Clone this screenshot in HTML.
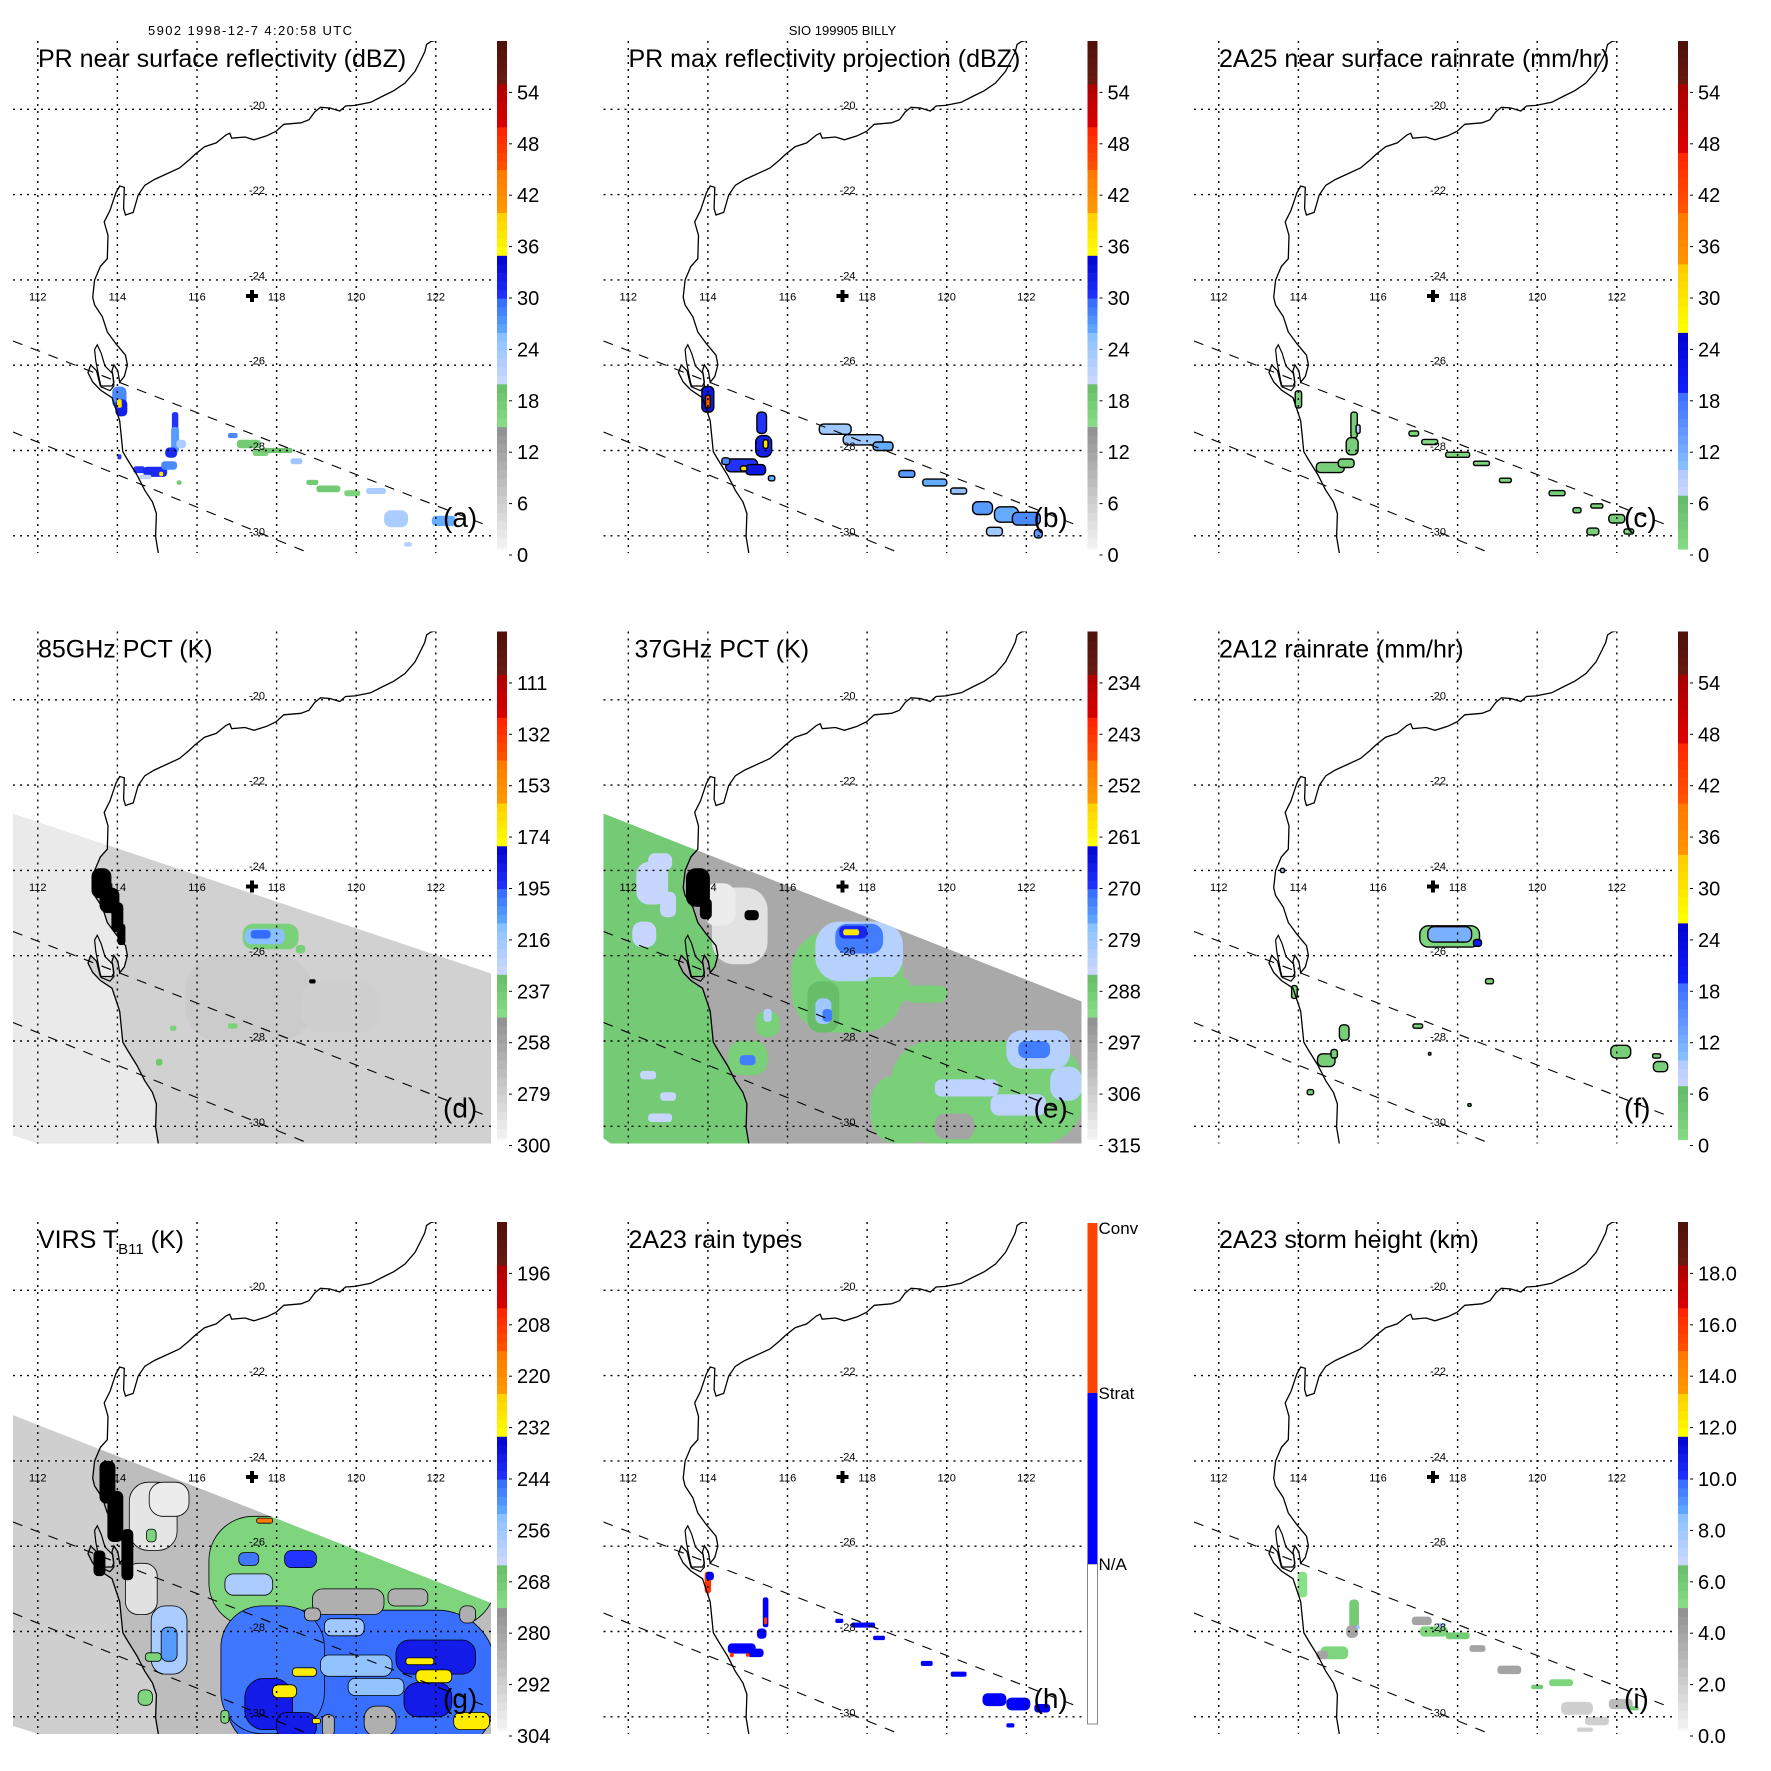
<!DOCTYPE html>
<html><head><meta charset="utf-8"><style>
html,body{margin:0;padding:0;background:#fff;}
svg{display:block;font-family:"Liberation Sans",Arial,sans-serif;}
</style></head><body>
<svg id="chart" width="1771" height="1771" viewBox="0 0 1771 1771" xmlns="http://www.w3.org/2000/svg"></svg>
<script>
// ---------- data ----------
const panelIds = ['a','b','c','d','e','f','g','h','i'];
const panelTitles = ['PR near surface reflectivity (dBZ)','PR max reflectivity projection (dBZ)','2A25 near surface rainrate (mm/hr)','85GHz PCT (K)','37GHz PCT (K)','2A12 rainrate (mm/hr)','VIRS T','2A23 rain types','2A23 storm height (km)'];
const lonTicks = [112,114,116,118,120,122];
const latTicks = [-20,-22,-24,-26,-28,-30];
const labA = ['0','6','12','18','24','30','36','42','48','54'];
const labD = ['300','279','258','237','216','195','174','153','132','111'];
const labE = ['315','306','297','288','279','270','261','252','243','234'];
const labG = ['304','292','280','268','256','244','232','220','208','196'];
const labI = ['0.0','2.0','4.0','6.0','8.0','10.0','12.0','14.0','16.0','18.0'];
const labH = ['N/A','Strat','Conv'];
// blobs: [lon, lat, halfWidthLon, halfHeightLat, value] (null = black contour mass)
const blobsA = [[114.05,-26.75,0.18,0.25,28],[114.1,-27.0,0.15,0.2,32],[114.05,-26.9,0.06,0.1,38],[115.45,-27.35,0.08,0.25,30],[115.45,-27.75,0.1,0.3,27],[115.35,-28.05,0.15,0.12,31],[115.6,-27.85,0.12,0.1,23],[114.55,-28.45,0.15,0.08,30],[114.95,-28.5,0.3,0.12,31],[115.1,-28.55,0.05,0.05,38],[115.3,-28.35,0.2,0.1,28],[114.7,-28.62,0.15,0.05,21],[115.55,-28.75,0.06,0.05,18],[114.05,-28.15,0.05,0.06,30],[116.9,-27.65,0.12,0.06,28],[117.3,-27.85,0.3,0.1,18],[117.6,-28.05,0.2,0.08,17],[118.0,-28.0,0.4,0.06,19],[118.5,-28.25,0.15,0.07,24],[118.9,-28.75,0.15,0.06,18],[119.3,-28.9,0.3,0.08,18],[119.9,-29.0,0.2,0.07,17],[120.5,-28.95,0.25,0.07,23],[121.0,-29.6,0.3,0.2,23],[122.2,-29.65,0.3,0.12,26],[121.3,-30.2,0.1,0.05,22]];
const blobsB = [[114.0,-26.8,0.15,0.3,33],[114.0,-26.85,0.06,0.15,45],[115.35,-27.35,0.12,0.25,30],[115.4,-27.9,0.2,0.25,32],[115.45,-27.85,0.06,0.1,38],[114.85,-28.35,0.4,0.15,30],[115.2,-28.45,0.25,0.12,33],[114.9,-28.42,0.08,0.06,38],[114.45,-28.25,0.1,0.08,28],[115.6,-28.65,0.08,0.06,26],[117.2,-27.5,0.4,0.12,24],[117.9,-27.75,0.5,0.12,24],[118.4,-27.9,0.25,0.1,26],[119.0,-28.55,0.2,0.08,27],[119.7,-28.75,0.3,0.08,26],[120.3,-28.95,0.2,0.07,25],[120.9,-29.35,0.25,0.15,27],[121.5,-29.5,0.3,0.18,26],[122.0,-29.6,0.35,0.15,28],[121.2,-29.9,0.2,0.1,24],[122.3,-29.95,0.1,0.1,27]];
const blobsC = [[114.0,-26.8,0.08,0.2,3],[115.4,-27.4,0.08,0.3,3],[115.35,-27.9,0.15,0.2,3],[115.5,-27.5,0.05,0.1,8],[114.8,-28.4,0.35,0.12,3],[115.2,-28.3,0.2,0.1,3],[116.9,-27.6,0.12,0.06,2],[117.3,-27.8,0.2,0.06,1],[118.0,-28.1,0.3,0.06,2],[118.6,-28.3,0.2,0.05,2],[119.2,-28.7,0.15,0.05,2],[120.5,-29.0,0.2,0.06,3],[121.0,-29.4,0.1,0.06,3],[121.5,-29.3,0.15,0.05,3],[122.0,-29.6,0.2,0.1,3],[121.4,-29.9,0.15,0.08,3],[122.3,-29.9,0.12,0.06,2]];
const blobsD = [[113.6,-24.3,0.25,0.35,null],[113.8,-24.7,0.25,0.3,null],[114.0,-25.1,0.15,0.35,null],[114.1,-25.5,0.1,0.25,null],[117.3,-27.0,1.6,1.0,277],[119.6,-27.2,1.0,0.6,279],[117.85,-25.55,0.7,0.3,240],[117.7,-25.55,0.5,0.18,210],[117.6,-25.5,0.25,0.1,196],[118.6,-25.85,0.12,0.1,240],[118.9,-26.6,0.08,0.05,null],[116.9,-27.65,0.12,0.06,240],[115.4,-27.7,0.08,0.06,240],[115.05,-28.5,0.08,0.08,235]];
const blobsE = [[112.6,-24.3,0.4,0.5,284],[112.4,-25.5,0.3,0.3,284],[112.8,-23.8,0.3,0.2,284],[113.0,-24.8,0.2,0.3,284],[112.5,-28.8,0.2,0.1,284],[113.0,-29.3,0.2,0.1,284],[112.8,-29.8,0.3,0.1,284],[114.8,-25.3,0.7,0.9,310],[114.3,-24.8,0.4,0.5,312],[113.75,-24.4,0.3,0.45,null],[113.95,-24.9,0.15,0.25,null],[115.1,-25.05,0.18,0.12,null],[117.5,-26.6,1.4,1.2,289],[117.8,-25.9,1.1,0.7,282],[117.8,-25.6,0.6,0.35,272],[117.65,-25.45,0.35,0.15,268],[117.6,-25.45,0.2,0.07,259],[116.9,-27.2,0.4,0.6,285],[116.9,-27.3,0.2,0.3,279],[117.0,-27.4,0.12,0.15,272],[115.0,-28.4,0.5,0.4,289],[115.0,-28.45,0.2,0.12,272],[115.5,-27.6,0.3,0.3,289],[115.5,-27.4,0.1,0.15,282],[121.0,-29.2,2.4,1.2,289],[118.9,-29.6,0.8,0.8,289],[122.3,-28.2,0.8,0.45,282],[122.2,-28.2,0.4,0.2,272],[120.5,-29.1,0.8,0.2,283],[121.8,-29.5,0.7,0.25,283],[123.0,-29.0,0.4,0.4,282],[118.5,-26.8,0.6,0.3,289],[119.5,-26.9,0.5,0.2,289],[120.2,-30.0,0.5,0.3,297]];
const blobsF = [[117.8,-25.55,0.75,0.25,2],[117.8,-25.5,0.55,0.18,12],[118.5,-25.7,0.1,0.08,20],[118.8,-26.6,0.1,0.06,3],[113.9,-26.85,0.07,0.15,2],[113.6,-24.0,0.05,0.05,10],[115.15,-27.8,0.12,0.18,3],[114.7,-28.45,0.22,0.15,3],[114.9,-28.3,0.08,0.1,3],[114.3,-29.2,0.08,0.06,3],[117.0,-27.65,0.12,0.05,3],[117.3,-28.3,0.03,0.03,3],[118.3,-29.5,0.04,0.03,3],[122.1,-28.25,0.25,0.15,3],[123.1,-28.6,0.18,0.12,3],[123.0,-28.35,0.1,0.05,3]];
const blobsG = [[114.9,-25.3,0.6,0.8,298],[115.3,-24.9,0.5,0.4,300],[114.6,-27.0,0.4,0.6,297],[113.75,-24.5,0.2,0.5,null],[113.95,-25.3,0.2,0.6,null],[114.25,-26.2,0.15,0.6,null],[113.55,-26.4,0.15,0.3,null],[119.9,-26.6,3.6,1.3,271],[120.1,-29.2,3.4,1.7,245],[117.9,-28.9,1.3,1.5,246],[117.8,-29.7,0.6,0.6,239],[118.5,-30.2,0.5,0.3,239],[122.0,-28.6,1.0,0.4,239],[121.8,-29.6,0.6,0.4,239],[118.6,-26.3,0.4,0.2,244],[117.3,-26.3,0.25,0.15,246],[120.0,-28.8,0.9,0.25,254],[120.5,-29.3,0.7,0.2,254],[119.7,-27.9,0.5,0.2,256],[117.3,-26.9,0.6,0.25,258],[119.8,-27.3,0.9,0.3,283],[121.3,-27.2,0.5,0.2,283],[122.8,-27.6,0.2,0.2,283],[118.9,-27.6,0.2,0.15,283],[120.6,-30.1,0.4,0.35,283],[119.3,-30.2,0.15,0.25,283],[121.95,-29.05,0.45,0.15,230],[121.6,-28.7,0.35,0.08,230],[118.2,-29.4,0.3,0.15,230],[118.7,-28.95,0.3,0.1,230],[122.9,-30.1,0.45,0.2,230],[119.0,-30.1,0.1,0.06,230],[117.7,-25.4,0.2,0.06,215],[115.3,-28.2,0.45,0.8,258],[115.3,-28.3,0.2,0.4,250],[114.9,-28.6,0.2,0.1,270],[114.7,-29.55,0.18,0.18,271],[114.85,-25.75,0.12,0.15,271],[116.7,-30.0,0.1,0.15,271]];
const blobsH = [[114.0,-26.85,0.08,0.25,2],[114.05,-26.7,0.1,0.1,1],[115.45,-27.55,0.07,0.35,1],[115.45,-27.75,0.04,0.08,2],[115.35,-28.05,0.12,0.12,1],[114.85,-28.4,0.35,0.12,1],[115.2,-28.5,0.2,0.1,1],[114.6,-28.55,0.05,0.05,2],[115.0,-28.55,0.05,0.04,2],[117.3,-27.75,0.1,0.05,1],[117.9,-27.85,0.3,0.06,1],[118.3,-28.15,0.15,0.05,1],[119.5,-28.75,0.15,0.06,1],[120.3,-29.0,0.2,0.06,1],[121.2,-29.6,0.3,0.15,1],[121.8,-29.7,0.3,0.15,1],[122.4,-29.8,0.2,0.1,1],[121.6,-30.2,0.1,0.05,1]];
const blobsI = [[114.1,-26.9,0.12,0.3,5],[115.4,-27.6,0.12,0.35,6],[115.35,-28.0,0.15,0.15,4],[115.5,-27.9,0.04,0.05,8],[114.9,-28.5,0.35,0.15,5.5],[114.6,-28.55,0.15,0.1,4],[117.1,-27.75,0.25,0.1,4],[117.4,-28.0,0.35,0.12,5.5],[118.0,-28.1,0.3,0.08,6],[118.5,-28.4,0.2,0.08,4],[117.6,-27.85,0.1,0.05,7.5],[119.3,-28.9,0.3,0.1,4],[120.6,-29.2,0.3,0.08,5.5],[120.0,-29.3,0.15,0.05,6],[121.0,-29.8,0.4,0.15,2],[121.5,-30.1,0.3,0.1,2],[122.1,-29.7,0.3,0.12,3],[122.4,-29.8,0.15,0.05,6],[121.2,-30.3,0.2,0.05,2]];
// swath background values [ocean, land]
const swathBgD = [292, 280];
const swathBgE = [288, 298];
const swathBgG = [292, 287];

// ---------- geometry ----------
const NS='http://www.w3.org/2000/svg';
const svg=document.getElementById('chart');
function X(lon){return 37.8+(lon-112)*39.8;}
function Y(lat){return 109.3+(-20-lat)*42.65;}
const coast=[[435.5,40.5],[431,41.5],[426.6,44.4],[424.7,52],[420.8,60],[415,71.4],[405,83],[393.8,90.7],[382,96.5],[370.7,102.3],[355,105.4],[345.6,106],[339.8,111],[330,108],[320.5,107.3],[314.7,112],[309,119.7],[301,122.8],[283.8,124.3],[276,131.3],[266.4,135.9],[254,139.8],[245,137],[231.7,138.2],[229.7,133.2],[225.9,135],[216.2,142.9],[204.6,146.7],[195,154.4],[189,160],[179.5,168],[154.4,179.5],[144.8,185.3],[138.2,195],[133.2,212.4],[125.5,215],[123.6,208.5],[124.3,187.3],[119.7,186],[115.8,193],[110,210.4],[104.2,222],[108,235.5],[107.3,258.7],[100.4,266.4],[94.6,280],[92.7,297.3],[94.6,305],[102.3,316.6],[107.3,332],[115.8,343.6],[125.5,355.2],[127.4,364.9],[124.3,376.4],[119.7,382.2],[117.8,370.7],[113.9,364.9],[112,370.7],[113.9,382.2],[112,386],[100.4,386],[96.5,370.7],[90.7,364.9],[88,372.6],[92.7,382],[100.4,390],[112,397.7],[119.7,420.8],[122.8,451.7],[127.4,459.5],[137,475],[144.8,490.3],[152.5,502],[156.4,513.5],[155.6,536.7],[158.3,553]];
const bay=[[94.6,349.4],[97.3,344.8],[101.2,353.3],[105,366],[112.7,373.7],[113.9,386],[110,390.7],[101.2,386.9],[99.6,380.3],[95.8,361],[94.6,349.4]];
const swathPoly={d:[[13,223],[491,383],[491,553],[38,553],[13,545]],e:[[13,223],[491,411],[491,553],[20,553],[13,548]],g:[[13,234],[491,422],[491,553],[38,553],[13,545]]};
const pts=a=>a.map(p=>p[0].toFixed(1)+','+p[1].toFixed(1)).join(' ');

// ---------- colormaps ----------
const bandsA=[[0,0.25,'#fafafa','#8f8f8f'],[0.25,0.338,'#88e088','#66bb66'],[0.338,0.43,'#ccd8ff','#88c0ff'],[0.43,0.5,'#66b0ff','#3366ff'],[0.5,0.587,'#2233ff','#0000cc'],[0.587,0.67,'#ffff00','#ffcc00'],[0.67,0.75,'#ff9900','#ff7700'],[0.75,0.83,'#ff5500','#ff2200'],[0.83,0.92,'#dd0000','#aa0000'],[0.92,1.01,'#6a1a10','#4a1008']];
const bandsC=[[0,0.11,'#88e088','#66bb66'],[0.11,0.17,'#d0d8ff','#b0c8ff'],[0.17,0.31,'#88c0ff','#3f6fff'],[0.31,0.44,'#1122ff','#0000cc'],[0.44,0.56,'#ffff00','#ffcc00'],[0.56,0.67,'#ff9900','#ff7700'],[0.67,0.79,'#ff5500','#ff2200'],[0.79,0.91,'#dd0000','#aa0000'],[0.91,1.01,'#6a1a10','#4a1008']];
function hx(c){return [1,3,5].map(i=>parseInt(c.substr(i,2),16));}
function cmap(b,f){f=Math.max(0,Math.min(1,f));for(const s of b){if(f>=s[0]&&f<s[1]){const t=(f-s[0])/(s[1]-s[0]);const a=hx(s[2]),c=hx(s[3]);return 'rgb('+a.map((v,i)=>Math.round(v+(c[i]-v)*t)).join(',')+')';}}return b[b.length-1][3];}
function el(tag,attrs,parent){const e=document.createElementNS(NS,tag);for(const k in attrs)e.setAttribute(k,attrs[k]);(parent||svg).appendChild(e);return e;}

const cfg={
 a:{blobs:blobsA,bands:bandsA,fr:v=>v/60,labels:labA},
 b:{blobs:blobsB,bands:bandsA,fr:v=>v/60,labels:labA,outline:1.4},
 c:{blobs:blobsC,bands:bandsC,fr:v=>v/60.5,labels:labA,outline:1.4},
 d:{blobs:blobsD,bands:bandsA,fr:v=>(300-v)/210,labels:labD,bg:swathBgD},
 e:{blobs:blobsE,bands:bandsA,fr:v=>(315-v)/90,labels:labE,bg:swathBgE},
 f:{blobs:blobsF,bands:bandsC,fr:v=>v/60.5,labels:labA,outline:1.4},
 g:{blobs:blobsG,bands:bandsA,fr:v=>(304-v)/120,labels:labG,bg:swathBgG,outline:0.8},
 h:{blobs:blobsH,cat:['#ffffff','#0000ff','#ff3300'],labels:labH},
 i:{blobs:blobsI,bands:bandsA,fr:v=>v/20,labels:labI}
};

panelIds.forEach((id,k)=>{
 const c=cfg[id];
 const ox=(k%3)*590.5, oy=Math.floor(k/3)*590.5;
 const g=el('g',{transform:'translate('+ox+','+oy+')'});
 
 
 const defs=el('defs',{},g);
 const cp=el('clipPath',{id:'clip'+id},defs);
 el('rect',{x:13,y:41,width:478,height:512},cp);
 const plot=el('g',{'clip-path':'url(#clip'+id+')'},g);
 
 
 const col=v=>v===null?'#000':(c.cat?c.cat[v]:cmap(c.bands,c.fr(v)));
 let target=plot;
 if(c.bg){
  const sp=swathPoly[id];
  const cs=el('clipPath',{id:'sw'+id},defs);
  el('polygon',{points:pts(sp)},cs);
  target=el('g',{'clip-path':'url(#sw'+id+')'},plot);
  const ocean=el('polygon',{points:pts(sp),fill:col(c.bg[0])},target);
  
  
  const land=el('polygon',{points:pts(coast.concat([[495,553],[495,36],[435.5,36]])),fill:col(c.bg[1])},target);
  
  
 }
 c.blobs.forEach(b=>{
  const x=X(b[0]-b[2]),y=Y(b[1]+b[3]),w=b[2]*2*39.8,h=b[3]*2*42.65;
  const r=Math.min(w,h)*0.4;
  const rc=el('rect',{x:x.toFixed(1),y:y.toFixed(1),width:w.toFixed(1),height:h.toFixed(1),rx:r.toFixed(1),fill:col(b[4])},target);
  if(c.outline&&b[4]!==null){rc.setAttribute('stroke','#000');rc.setAttribute('stroke-width',c.outline);}
  
  
 });
 // grid
 lonTicks.forEach(lo=>{const l=el('line',{x1:X(lo),x2:X(lo),y1:41,y2:553,stroke:'#000','stroke-width':1.4,'stroke-dasharray':'2 5'},g);
  
  const t=el('text',{x:X(lo),y:300.5,'font-size':11,'text-anchor':'middle'},g);t.textContent=lo;
  });
 latTicks.forEach(la=>{const l=el('line',{x1:13,x2:491,y1:Y(la),y2:Y(la),stroke:'#000','stroke-width':1.4,'stroke-dasharray':'2 5'},g);
  
  const t=el('text',{x:257,y:Y(la)-0.5,'font-size':11,'text-anchor':'middle'},g);t.textContent=la;
  });
 // coastline
 const cl=el('polyline',{points:pts(coast),fill:'none',stroke:'#000','stroke-width':1.3},plot);
 
 const by=el('polyline',{points:pts(bay),fill:'none',stroke:'#000','stroke-width':1.2},plot);
 
 // PR swath edges
 [[13,341,486,525],[13,432,309,553]].forEach(s=>{const l=el('line',{x1:s[0],y1:s[1],x2:s[2],y2:s[3],stroke:'#000','stroke-width':1.1,'stroke-dasharray':'10 9'},plot);
  });
 // center cross
 const cx=252,cy=296;
 const cr=el('path',{d:`M${cx-6},${cy-2}h12v4h-12z M${cx-2},${cy-6}h4v12h-4z`,fill:'#000'},g);
 
 // title
 const tt=el('text',{x:id==='e'?44:38,y:67,'font-size':25},g);
 
 if(id==='g'){tt.textContent='VIRS T';const s=el('tspan',{'font-size':15,dy:6},tt);s.textContent='B11';const s2=el('tspan',{dy:-6},tt);s2.textContent=' (K)';}
 else tt.textContent=panelTitles[k];
 // letter
 const lt=el('text',{x:443,y:527,'font-size':28},g);lt.textContent='('+id+')';
 
 // colorbar
 const cb=el('g',{},g);
 
 if(c.cat){
  el('rect',{x:497,y:383,width:10,height:160,fill:'#fff',stroke:'#888','stroke-width':1},cb);
  el('rect',{x:497,y:212,width:10,height:171,fill:'#0000ff'},cb);
  el('rect',{x:497,y:42,width:10,height:170,fill:'#ff4400'},cb);
  [[383,'N/A'],[212,'Strat'],[47,'Conv']].forEach(p=>{const t=el('text',{x:508,y:p[0]+6,'font-size':17},cb);t.textContent=p[1];
   });
 } else {
  const N=60;
  for(let i=0;i<N;i++){const f0=i/N,f1=(i+1)/N;const y0=Math.min(549,555-f0*514),y1=555-f1*514;
   el('rect',{x:497,y:y1.toFixed(1),width:10,height:(y0-y1+0.6).toFixed(1),fill:cmap(c.bands,(f0+f1)/2)},cb);}
  c.labels.forEach((s,j)=>{const y=555-j/10*514;
   el('line',{x1:509,x2:512,y1:y,y2:y,stroke:'#000','stroke-width':1},cb);
   const t=el('text',{x:517,y:y+7,'font-size':20},cb);t.textContent=s;
   });
 }
 if(id==='a'){const h=el('text',{x:250,y:35,'font-size':13,'text-anchor':'middle',textLength:204},g);h.textContent='5902 1998-12-7 4:20:58 UTC';
  }
 if(id==='b'){const h=el('text',{x:252,y:35,'font-size':13,'text-anchor':'middle'},g);h.textContent='SIO 199905 BILLY';
  }
});
</script>
</body></html>
